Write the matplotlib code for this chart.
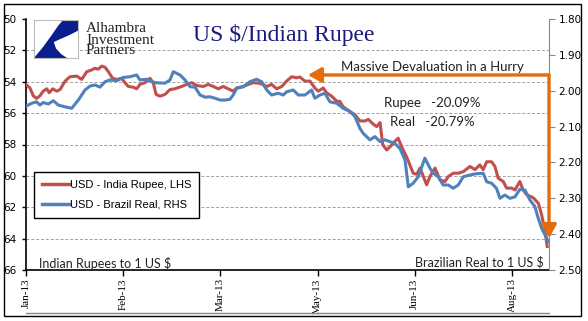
import numpy as np
import pandas as pd
import matplotlib
matplotlib.use("Agg")
import matplotlib.pyplot as plt
from matplotlib.patches import Polygon, Rectangle
from matplotlib.lines import Line2D

# data: days after 1 Jan 2013 and rates
rupee_days = [0, 1.8, 3.3, 4.8, 6.3, 7.8, 9.4, 10.5, 12.1, 13.9, 15.4, 17.7, 19.9, 23, 25.2, 27.5,
              29.7, 31.2, 32.7, 34.3, 35.8, 37.3, 39.2, 41.1, 43.3, 44.8, 46.3, 48.6, 50.1, 51.6,
              53.9, 56.1, 57.6, 58.9, 60.7, 62.9, 65.2, 67.4, 70.5, 72.7, 75, 77.3, 80.3, 82.5,
              84.8, 87.1, 89.3, 92.3, 93.8, 95.4, 98.4, 100.6, 102.9, 105.9, 109, 111.2, 113.5,
              115.8, 118, 120.3, 122.5, 124, 126.3, 128.6, 130.8, 132.3, 134.6, 136.1, 138.4,
              140.7, 142.1, 143.6, 146.7, 148.9, 151.2, 153.5, 155, 157.2, 158.8, 160.3, 161.5,
              163.3, 164.8, 167, 168.5, 170.1, 172.3, 173.8, 175.3, 176.9, 178.4, 179.9, 181.4,
              182.9, 185.2, 187.4, 189.7, 191.2, 193.4, 195.7, 198, 201, 203.3, 205.5, 207,
              208.6, 210.8, 212.3, 213.8, 216.1, 217.6, 219.9, 221.4, 223.6, 225.1, 226.7,
              229.7, 232, 233.5, 235, 236]
rupee = [54.17, 54.4, 54.9, 55.06, 54.9, 54.6, 54.45, 54.7, 54.45, 54.6, 54.5, 53.96, 53.68, 53.64,
         53.85, 53.36, 53.25, 53.14, 53.2, 53.0, 53.08, 53.36, 53.78, 53.85, 53.78, 54.06, 54.3,
         54.35, 54.45, 54.17, 54.06, 53.78, 54.06, 54.81, 54.92, 54.81, 54.5, 54.45, 54.3, 54.17,
         54.06, 54.24, 54.3, 54.17, 54.3, 54.45, 54.3, 54.5, 54.6, 54.4, 54.3, 54.17, 54.06, 54.1,
         54.3, 54.17, 54.45, 54.3, 53.96, 53.68, 53.75, 53.7, 53.96, 53.96, 54.4, 54.6, 54.4,
         54.7, 54.92, 55.24, 55.25, 55.6, 55.9, 56.1, 56.5, 56.5, 56.4, 56.7, 56.86, 56.6, 58.0,
         58.35, 58.15, 57.8, 57.6, 58.15, 58.78, 59.3, 59.83, 59.9, 59.5, 60.04, 60.57, 60.04,
         59.5, 60.25, 60.36, 60.04, 59.83, 59.83, 59.73, 59.4, 59.6, 59.3, 59.6, 59.1, 59.1,
         59.4, 60.15, 60.36, 60.78, 60.78, 60.9, 60.36, 60.9, 61.2, 61.4, 61.75, 62.5, 63.55,
         64.5]

real_days = [0, 2.6, 4.8, 6.3, 7.8, 10.1, 12.4, 14.6, 17.7, 20.7, 23.7, 26.7, 29, 31.2, 33.5, 35.8,
             38, 41.1, 44.1, 47.1, 50.1, 51.6, 54.6, 56.9, 59.2, 62.9, 65.2, 66.7, 69.7, 72, 74.3,
             76.5, 78.8, 81.1, 83.3, 85.6, 87.9, 90.1, 92.3, 93.8, 95.4, 98.4, 101.4, 104.4,
             106.7, 109, 111.2, 114.2, 116.5, 118, 121, 123.3, 126.3, 129.3, 130.8, 133.1, 135.3,
             137.6, 140.7, 143.6, 146.7, 148.9, 151.2, 152.7, 155.7, 158, 160.3, 162.5, 164.8,
             167, 169.3, 171.6, 173.1, 175.3, 177.6, 180.6, 182.9, 184.4, 186.7, 188.9, 191.2,
             193.4, 195.7, 198, 201, 203.3, 207, 208.6, 210.8, 213, 214.6, 216.8, 219.1, 221.4,
             223.6, 225.9, 228.2, 230.4, 231.9, 233.5, 235, 236.5]
real = [2.043, 2.035, 2.031, 2.040, 2.033, 2.037, 2.028, 2.040, 2.045, 2.049, 2.026, 1.998, 1.987,
        1.984, 1.990, 1.975, 1.970, 1.972, 1.963, 1.961, 1.956, 1.970, 1.968, 1.975, 1.978, 1.979,
        1.970, 1.947, 1.956, 1.970, 1.989, 1.990, 2.012, 2.018, 2.017, 2.021, 2.026, 2.026, 2.024,
        2.012, 1.993, 1.989, 1.975, 1.968, 1.975, 1.998, 2.012, 2.007, 2.012, 2.003, 1.998, 2.012,
        2.012, 1.998, 2.021, 2.012, 2.007, 2.031, 2.035, 2.049, 2.058, 2.072, 2.105, 2.119, 2.137,
        2.128, 2.142, 2.137, 2.142, 2.147, 2.161, 2.193, 2.268, 2.258, 2.240, 2.188, 2.216, 2.230,
        2.240, 2.263, 2.263, 2.272, 2.263, 2.240, 2.235, 2.232, 2.230, 2.254, 2.258, 2.272, 2.300,
        2.291, 2.300, 2.296, 2.275, 2.277, 2.305, 2.323, 2.355, 2.384, 2.402, 2.421]

left_ticks = [50, 52, 54, 56, 58, 60, 62, 64, 66]
right_ticks = [1.80, 1.90, 2.00, 2.10, 2.20, 2.30, 2.40, 2.50]
tick_dates = ["2013-01-01", "2013-02-14", "2013-03-30", "2013-05-13", "2013-06-26", "2013-08-09"]

RED = "#C0504D"
BLUE = "#4F81BD"
ORANGE = "#E46C0A"
NARROW = ["Liberation Sans Narrow", "DejaVu Sans"]

start = pd.Timestamp("2013-01-01")
rx = [start + pd.Timedelta(days=d) for d in rupee_days]
bx = [start + pd.Timedelta(days=d) for d in real_days]

fig = plt.figure(figsize=(5.88, 3.21), dpi=100)
ax = fig.add_axes([26 / 588, 51 / 321, 523 / 588, 251 / 321])
ax2 = ax.twinx()

ax.plot(rx, rupee, color=RED, lw=2.2, zorder=3)
ax2.plot(bx, real, color=BLUE, lw=2.2, zorder=2)

ax.set_ylim(66, 50)
ax2.set_ylim(2.5, 1.8)
ax.set_xlim(start, start + pd.Timedelta(days=236.8))
ax.set_yticks(left_ticks)
ax.set_yticklabels([str(v) for v in left_ticks], family=NARROW, fontsize=7.5)
ax2.set_yticks(right_ticks)
ax2.set_yticklabels(["%.2f" % v for v in right_ticks], family=NARROW, fontsize=7.5)
for v in left_ticks[1:-1]:
    ax.axhline(v, color="#a0a0a0", lw=0.7, ls=(0, (3, 2)), zorder=0)

xt = [pd.Timestamp(d) for d in tick_dates]
ax.set_xticks(xt)
ax.set_xticklabels([t.strftime("%b-%y") for t in xt], rotation=90, family="Liberation Serif", fontsize=8)
ax.tick_params(axis="x", length=4, width=1, pad=2)
ax.tick_params(axis="y", length=3, width=1, pad=4)
ax2.tick_params(axis="y", length=4, width=0.8, color="#888888", pad=3)

ax.spines["top"].set_visible(False)
ax2.spines["top"].set_visible(False)
ax.spines["right"].set_visible(False)
ax2.spines["left"].set_visible(False)
ax2.spines["bottom"].set_visible(False)
ax2.spines["right"].set_color("#888888")
ax2.spines["right"].set_linewidth(0.8)
ax.spines["left"].set_linewidth(1.2)
ax.spines["bottom"].set_linewidth(1.2)

# legend
handles = [Line2D([], [], color=RED, lw=2.5), Line2D([], [], color=BLUE, lw=2.5)]
leg = ax2.legend(handles, ["USD - India Rupee, LHS", "USD - Brazil Real, RHS"],
                 loc="lower left", bbox_to_anchor=(0.004, 0.185), fancybox=False,
                 edgecolor="black", framealpha=1, handlelength=2.4, handletextpad=0.1,
                 borderpad=0.75, labelspacing=0.85, prop={"family": "Liberation Sans", "size": 8})
leg.get_frame().set_linewidth(1)
leg.set_zorder(5)

# annotations
ax2.annotate("", xy=(0.539, 0.777), xytext=(1.0, 0.777), xycoords="axes fraction",
             arrowprops=dict(arrowstyle="-|>,head_length=0.8,head_width=0.45", color=ORANGE, lw=2.4,
                             shrinkA=0, shrinkB=0))
ax2.annotate("", xy=(1.0, 0.127), xytext=(1.0, 0.777), xycoords="axes fraction",
             arrowprops=dict(arrowstyle="-|>,head_length=0.8,head_width=0.45", color=ORANGE, lw=2.4,
                             shrinkA=0, shrinkB=0))
ax2.text(0.777, 0.81, "Massive Devaluation in a Hurry", transform=ax2.transAxes, ha="center",
         va="center", family="Lato", fontsize=9.5, color="#222222")
ax2.text(0.777, 0.665, "Rupee   -20.09%", transform=ax2.transAxes, ha="center", va="center",
         family="Lato", fontsize=9.5, color="#222222")
ax2.text(0.777, 0.59, "Real   -20.79%", transform=ax2.transAxes, ha="center", va="center",
         family="Lato", fontsize=9.5, color="#222222")
ax2.text(0.025, 0.027, "Indian Rupees to 1 US $", transform=ax2.transAxes, ha="left", va="center",
         family="Lato", fontsize=9, color="#222222")
ax2.text(0.99, 0.031, "Brazilian Real to 1 US $", transform=ax2.transAxes, ha="right", va="center",
         family="Lato", fontsize=9, color="#222222")

# title and logo
fig.text(284 / 588, 1 - 35 / 321, "US $/Indian Rupee", ha="center", va="center",
         family="Liberation Serif", fontsize=17, color="#1a1a80")
fig.text(86 / 588, 1 - 40 / 321, "Alhambra\nInvestment\nPartners", ha="left", va="center",
         family="Liberation Serif", fontsize=11, color="#222222", linespacing=0.8)
lax = fig.add_axes([34 / 588, 1 - 58 / 321, 44 / 588, 38 / 321])
lax.set_xlim(0, 1)
lax.set_ylim(0, 1)
lax.set_xticks([])
lax.set_yticks([])
for s in lax.spines.values():
    s.set_color("#bbbbbb")
    s.set_linewidth(0.8)
lax.add_patch(Polygon([(0.66, 1), (1, 1), (1, 0.72), (0.8, 0.6), (0.6, 0.5), (0.45, 0.42),
                       (0.5, 0.25), (0.62, 0.1), (0.75, 0.0), (0.0, 0.0), (0.2, 0.28),
                       (0.4, 0.6), (0.55, 0.85)], closed=True, color="#0a1f8f", lw=0))

# outer frame and bottom line
fig.add_artist(Rectangle((4 / 588, 5 / 321), 577 / 588, 312 / 321, transform=fig.transFigure,
                         fill=False, edgecolor="black", lw=1))
fig.add_artist(Line2D([26 / 588, 549 / 588], [1 - 313 / 321, 1 - 313 / 321],
                      transform=fig.transFigure, color="#888888", lw=1))

fig.savefig("out.png", dpi=100)
